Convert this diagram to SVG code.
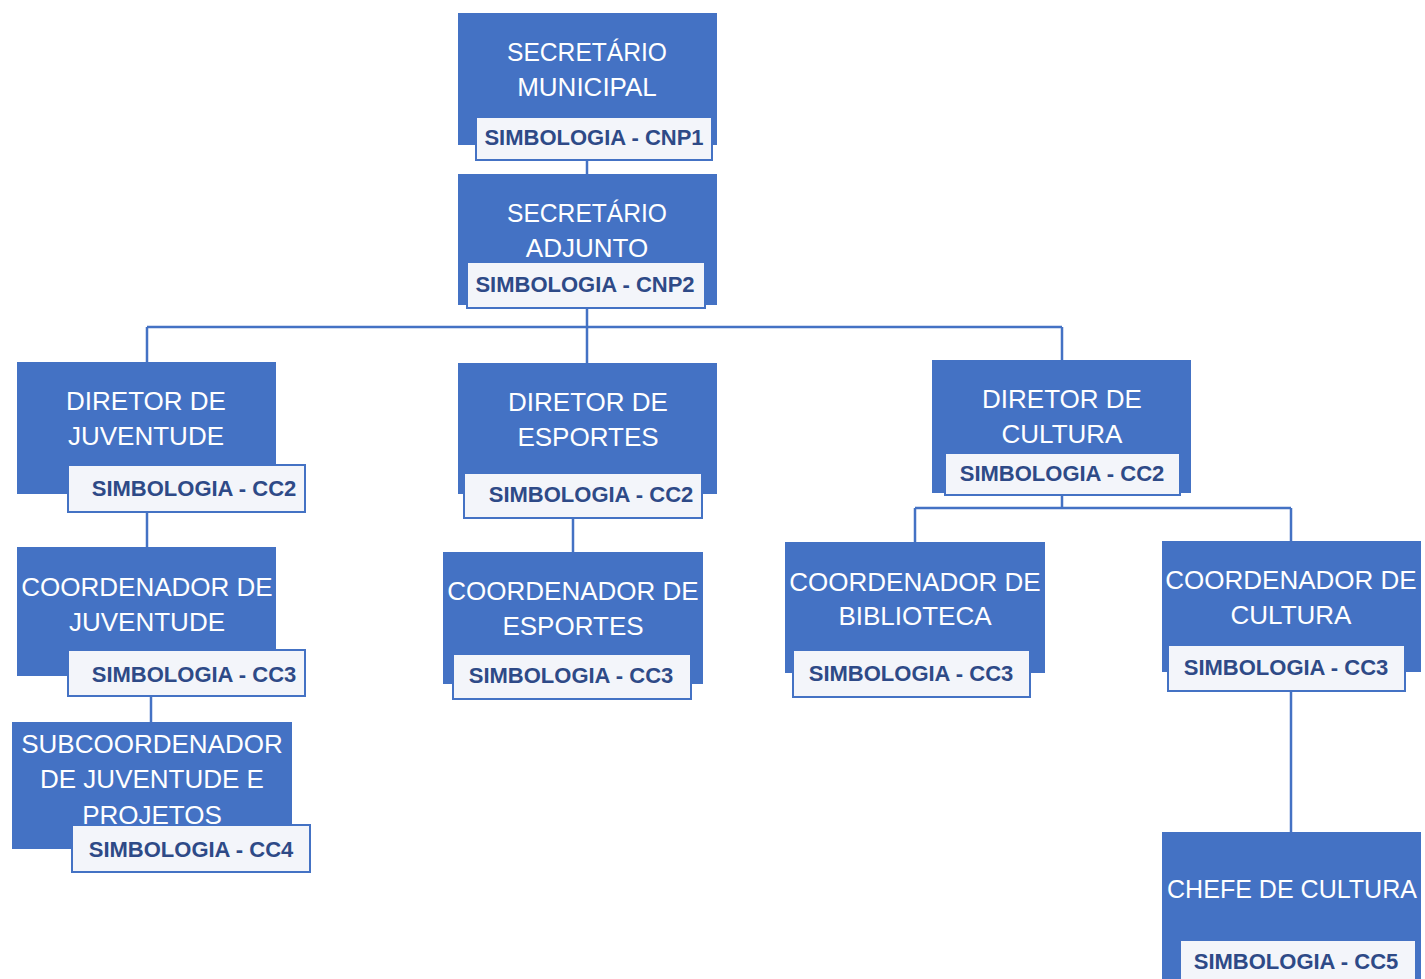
<svg xmlns="http://www.w3.org/2000/svg" width="1425" height="979" viewBox="0 0 1425 979">
<style>
.box{fill:#4472C4}
.lab{fill:#F3F5FA;stroke:#4472C4;stroke-width:2}
.t{font-family:"Liberation Sans",Arial,sans-serif;font-size:26px;fill:#FFFFFF;text-anchor:middle}
.s{font-family:"Liberation Sans",Arial,sans-serif;font-size:22px;font-weight:bold;fill:#2E4A87;text-anchor:middle}
.c{stroke:#4472C4;stroke-width:2.5;fill:none}
</style>
<rect width="1425" height="979" fill="#FFFFFF"/>
<g id="connectors">
<path class="c" d="M587,160V174"/>
<path class="c" d="M587,305V327M147,327H1062M147,327V362M587,327V363M1062,327V360"/>
<path class="c" d="M147,512V547"/>
<path class="c" d="M151,696V722"/>
<path class="c" d="M573,518V552"/>
<path class="c" d="M1062,495V508M915,508H1291M915,508V542M1291,508V541"/>
<path class="c" d="M1291,691V832"/>
</g>
<g id="secretario-municipal">
<rect class="box" x="458" y="13" width="259" height="132"/>
<text class="t" x="587" y="61" textLength="160" lengthAdjust="spacingAndGlyphs">SECRETÁRIO</text>
<text class="t" x="587" y="96">MUNICIPAL</text>
<rect class="lab" x="476" y="117" width="236" height="43"/>
<text class="s" x="594" y="145">SIMBOLOGIA - CNP1</text>
</g>
<g id="secretario-adjunto">
<rect class="box" x="458" y="174" width="259" height="131"/>
<text class="t" x="587" y="222" textLength="160" lengthAdjust="spacingAndGlyphs">SECRETÁRIO</text>
<text class="t" x="587" y="257">ADJUNTO</text>
<rect class="lab" x="467" y="262" width="238" height="46"/>
<text class="s" x="585" y="292">SIMBOLOGIA - CNP2</text>
</g>
<g id="diretor-juventude">
<rect class="box" x="17" y="362" width="259" height="132"/>
<text class="t" x="146" y="410">DIRETOR DE</text>
<text class="t" x="146" y="445">JUVENTUDE</text>
<rect class="lab" x="68" y="465" width="237" height="47"/>
<text class="s" x="194" y="496">SIMBOLOGIA - CC2</text>
</g>
<g id="coordenador-juventude">
<rect class="box" x="17" y="547" width="259" height="129"/>
<text class="t" x="147" y="596">COORDENADOR DE</text>
<text class="t" x="147" y="631">JUVENTUDE</text>
<rect class="lab" x="68" y="650" width="237" height="46"/>
<text class="s" x="194" y="682">SIMBOLOGIA - CC3</text>
</g>
<g id="subcoordenador-juventude">
<rect class="box" x="12" y="722" width="280" height="127"/>
<text class="t" x="152" y="753">SUBCOORDENADOR</text>
<text class="t" x="152" y="788">DE JUVENTUDE E</text>
<text class="t" x="152" y="824">PROJETOS</text>
<rect class="lab" x="72" y="825" width="238" height="47"/>
<text class="s" x="191" y="857">SIMBOLOGIA - CC4</text>
</g>
<g id="diretor-esportes">
<rect class="box" x="458" y="363" width="259" height="131"/>
<text class="t" x="588" y="411">DIRETOR DE</text>
<text class="t" x="588" y="446">ESPORTES</text>
<rect class="lab" x="464" y="473" width="238" height="45"/>
<text class="s" x="591" y="502">SIMBOLOGIA - CC2</text>
</g>
<g id="coordenador-esportes">
<rect class="box" x="443" y="552" width="260" height="132"/>
<text class="t" x="573" y="600">COORDENADOR DE</text>
<text class="t" x="573" y="635">ESPORTES</text>
<rect class="lab" x="453" y="654" width="238" height="45"/>
<text class="s" x="571" y="683">SIMBOLOGIA - CC3</text>
</g>
<g id="diretor-cultura">
<rect class="box" x="932" y="360" width="259" height="133"/>
<text class="t" x="1062" y="408">DIRETOR DE</text>
<text class="t" x="1062" y="443">CULTURA</text>
<rect class="lab" x="945" y="453" width="235" height="42"/>
<text class="s" x="1062" y="481">SIMBOLOGIA - CC2</text>
</g>
<g id="coordenador-biblioteca">
<rect class="box" x="785" y="542" width="260" height="131"/>
<text class="t" x="915" y="591">COORDENADOR DE</text>
<text class="t" x="915" y="625">BIBLIOTECA</text>
<rect class="lab" x="793" y="650" width="237" height="47"/>
<text class="s" x="911" y="681">SIMBOLOGIA - CC3</text>
</g>
<g id="coordenador-cultura">
<rect class="box" x="1162" y="541" width="259" height="131"/>
<text class="t" x="1291" y="589">COORDENADOR DE</text>
<text class="t" x="1291" y="624">CULTURA</text>
<rect class="lab" x="1168" y="645" width="237" height="46"/>
<text class="s" x="1286" y="675">SIMBOLOGIA - CC3</text>
</g>
<g id="chefe-cultura">
<rect class="box" x="1162" y="832" width="259" height="150"/>
<text class="t" x="1292" y="898" textLength="250" lengthAdjust="spacingAndGlyphs">CHEFE DE CULTURA</text>
<rect class="lab" x="1180" y="940" width="236" height="50"/>
<text class="s" x="1296" y="969">SIMBOLOGIA - CC5</text>
</g>
</svg>
